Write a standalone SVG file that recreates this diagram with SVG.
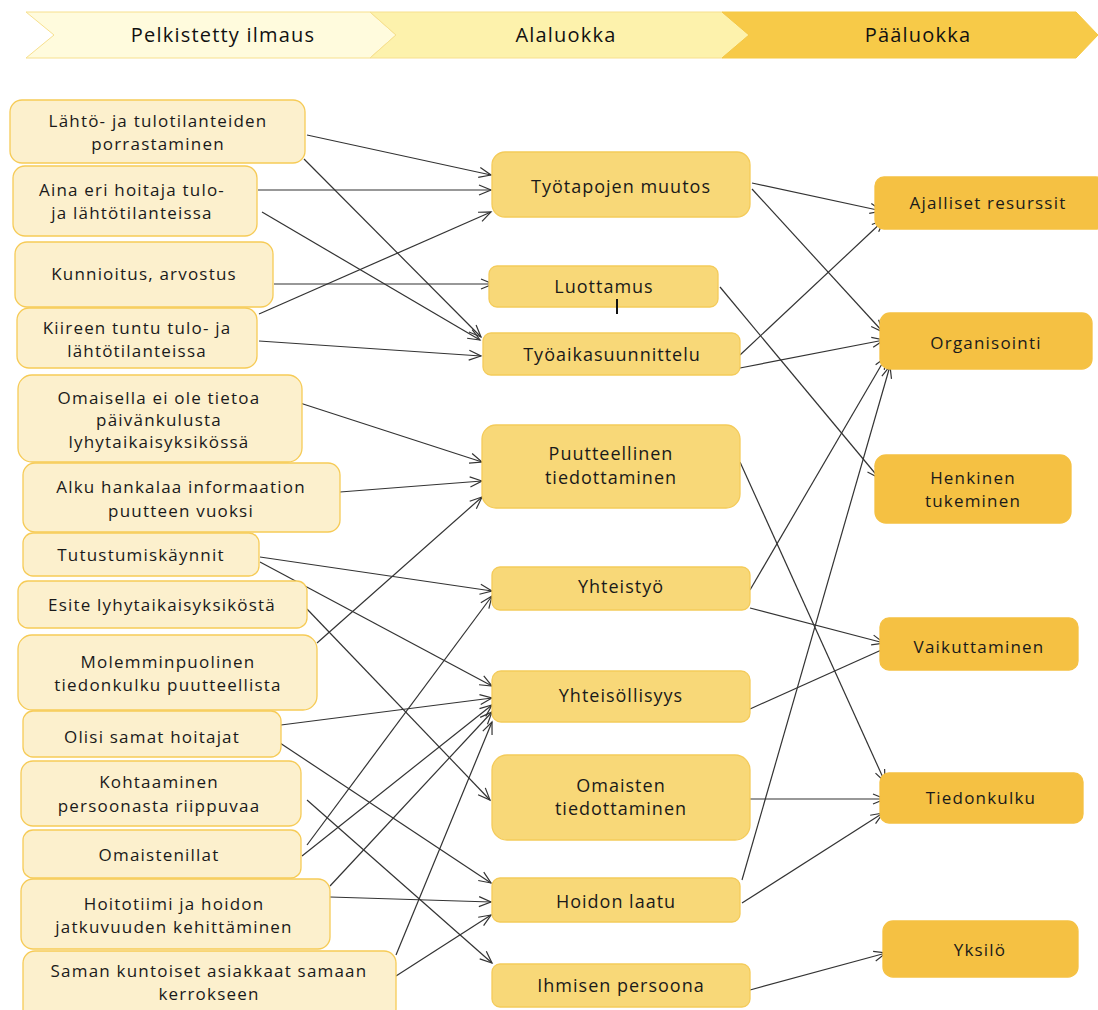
<svg xmlns="http://www.w3.org/2000/svg" width="1098" height="1010" viewBox="0 0 1098 1010">
<defs>
<marker id="arr" markerUnits="userSpaceOnUse" markerWidth="16" markerHeight="14" refX="13" refY="6" orient="auto">
<path d="M1,1 L13,6 L1,11" fill="none" stroke="#333" stroke-width="1.2"/>
</marker>
<style>
.hd{font-family:"Open Sans","Liberation Sans",sans-serif;font-size:20px;letter-spacing:1.2px;fill:#111;text-anchor:middle}
.l rect{fill:#FCF0CD;stroke:#F6CB57;stroke-width:1.3}
.m rect{fill:#F8D878;stroke:#F4CB5A;stroke-width:1.3}
.r rect{fill:#F5C143;stroke:#F5C143;stroke-width:1.3}
text.t{font-family:"Open Sans","Liberation Sans",sans-serif;font-size:17px;letter-spacing:1.2px;fill:#1a1a1a;text-anchor:middle}
.m text.t{font-size:18px;letter-spacing:1px}
.c line{stroke:#333;stroke-width:1.2;marker-end:url(#arr)}
</style>
</defs>
<rect width="1098" height="1010" fill="#fff"/>
<g id="header">
<polygon points="26,12 370,12 396,35 370,58 26,58 54,35" fill="#FFFBDD" stroke="#F7E08E" stroke-width="1"/>
<polygon points="370,12 722,12 749,35 722,58 370,58 396,35" fill="#FDF2AC" stroke="#F7E08E" stroke-width="1"/>
<polygon points="722,12 1076,12 1098,35 1076,58 722,58 749,35" fill="#F7CA48" stroke="#F5C843" stroke-width="1"/>
<text class="hd" x="223" y="42">Pelkistetty ilmaus</text>
<text class="hd" x="566" y="42">Alaluokka</text>
<text class="hd" x="918" y="42">Pääluokka</text>
</g>
<g id="connectors" class="c">
<line x1="307" y1="135" x2="491" y2="175"/>
<line x1="304" y1="159" x2="481" y2="337"/>
<line x1="258" y1="190" x2="491" y2="190"/>
<line x1="262" y1="212" x2="480" y2="340"/>
<line x1="274" y1="284" x2="493" y2="284"/>
<line x1="259" y1="314" x2="491" y2="212"/>
<line x1="259" y1="341" x2="481" y2="356"/>
<line x1="300" y1="403" x2="482" y2="462"/>
<line x1="340" y1="492" x2="482" y2="481"/>
<line x1="317" y1="643" x2="482" y2="497"/>
<line x1="260" y1="557" x2="492" y2="591"/>
<line x1="260" y1="562" x2="492" y2="686"/>
<line x1="307" y1="609" x2="490" y2="800"/>
<line x1="281" y1="725" x2="492" y2="698"/>
<line x1="277" y1="741" x2="491" y2="883"/>
<line x1="307" y1="800" x2="492" y2="963"/>
<line x1="307" y1="845" x2="492" y2="596"/>
<line x1="302" y1="856" x2="492" y2="705"/>
<line x1="330" y1="886" x2="492" y2="712"/>
<line x1="330" y1="897" x2="491" y2="902"/>
<line x1="396" y1="955" x2="492" y2="722"/>
<line x1="396" y1="976" x2="491" y2="915"/>
<line x1="752" y1="183" x2="882" y2="211"/>
<line x1="752" y1="189" x2="883" y2="332"/>
<line x1="720" y1="287" x2="879" y2="478"/>
<line x1="740" y1="355" x2="884" y2="220"/>
<line x1="740" y1="368" x2="884" y2="340"/>
<line x1="740" y1="462" x2="885" y2="782"/>
<line x1="750" y1="590" x2="886" y2="357"/>
<line x1="750" y1="608" x2="884" y2="643"/>
<line x1="750" y1="709" x2="897" y2="643"/>
<line x1="750" y1="799" x2="885" y2="799"/>
<line x1="742" y1="880" x2="890" y2="366"/>
<line x1="742" y1="903" x2="883" y2="813"/>
<line x1="750" y1="990" x2="886" y2="953"/>
</g>
<g id="l1" class="l"><rect x="10" y="100" width="295" height="63" rx="12"/><text class="t" x="158" y="127">Lähtö- ja tulotilanteiden</text><text class="t" x="158" y="150">porrastaminen</text></g>
<g id="l2" class="l"><rect x="13" y="166" width="244" height="70" rx="12"/><text class="t" x="132" y="196">Aina eri hoitaja tulo-</text><text class="t" x="132" y="219">ja lähtötilanteissa</text></g>
<g id="l3" class="l"><rect x="15" y="242" width="258" height="65" rx="12"/><text class="t" x="144" y="280">Kunnioitus, arvostus</text></g>
<g id="l4" class="l"><rect x="17" y="308" width="240" height="60" rx="12"/><text class="t" x="137" y="334">Kiireen tuntu tulo- ja</text><text class="t" x="137" y="357">lähtötilanteissa</text></g>
<g id="l5" class="l"><rect x="18" y="375" width="284" height="87" rx="14"/><text class="t" x="159" y="404">Omaisella ei ole tietoa</text><text class="t" x="159" y="426">päivänkulusta</text><text class="t" x="159" y="448">lyhytaikaisyksikössä</text></g>
<g id="l6" class="l"><rect x="23" y="463" width="317" height="69" rx="12"/><text class="t" x="181" y="493">Alku hankalaa informaation</text><text class="t" x="181" y="517">puutteen vuoksi</text></g>
<g id="l7" class="l"><rect x="23" y="533" width="236" height="43" rx="10"/><text class="t" x="141" y="561">Tutustumiskäynnit</text></g>
<g id="l8" class="l"><rect x="18" y="581" width="289" height="47" rx="10"/><text class="t" x="162" y="611">Esite lyhytaikaisyksiköstä</text></g>
<g id="l9" class="l"><rect x="18" y="635" width="299" height="75" rx="14"/><text class="t" x="168" y="668">Molemminpuolinen</text><text class="t" x="168" y="691">tiedonkulku puutteellista</text></g>
<g id="l10" class="l"><rect x="23" y="711" width="258" height="46" rx="10"/><text class="t" x="152" y="743">Olisi samat hoitajat</text></g>
<g id="l11" class="l"><rect x="21" y="761" width="280" height="65" rx="12"/><text class="t" x="159" y="788">Kohtaaminen</text><text class="t" x="159" y="812">persoonasta riippuvaa</text></g>
<g id="l12" class="l"><rect x="23" y="830" width="278" height="48" rx="10"/><text class="t" x="159" y="861">Omaistenillat</text></g>
<g id="l13" class="l"><rect x="21" y="879" width="309" height="70" rx="12"/><text class="t" x="174" y="910">Hoitotiimi ja hoidon</text><text class="t" x="174" y="933">jatkuvuuden kehittäminen</text></g>
<g id="l14" class="l"><rect x="23" y="951" width="373" height="70" rx="12"/><text class="t" x="209" y="977">Saman kuntoiset asiakkaat samaan</text><text class="t" x="209" y="1000">kerrokseen</text></g>
<g id="m1" class="m"><rect x="492" y="152" width="258" height="65" rx="13"/><text class="t" x="621" y="193">Työtapojen muutos</text></g>
<g id="m2" class="m"><rect x="489" y="266" width="229" height="41" rx="8"/><text class="t" x="604" y="293">Luottamus</text><line x1="617" y1="299" x2="617" y2="314" stroke="#111" stroke-width="2"/></g>
<g id="m3" class="m"><rect x="483" y="333" width="257" height="42" rx="8"/><text class="t" x="612" y="361">Työaikasuunnittelu</text></g>
<g id="m4" class="m"><rect x="482" y="425" width="258" height="83" rx="14"/><text class="t" x="611" y="460">Puutteellinen</text><text class="t" x="611" y="484">tiedottaminen</text></g>
<g id="m5" class="m"><rect x="492" y="567" width="258" height="43" rx="8"/><text class="t" x="621" y="593">Yhteistyö</text></g>
<g id="m6" class="m"><rect x="492" y="671" width="258" height="51" rx="9"/><text class="t" x="621" y="702">Yhteisöllisyys</text></g>
<g id="m7" class="m"><rect x="492" y="755" width="258" height="85" rx="15"/><text class="t" x="621" y="792">Omaisten</text><text class="t" x="621" y="815">tiedottaminen</text></g>
<g id="m8" class="m"><rect x="492" y="878" width="248" height="44" rx="8"/><text class="t" x="616" y="908">Hoidon laatu</text></g>
<g id="m9" class="m"><rect x="492" y="964" width="258" height="43" rx="8"/><text class="t" x="621" y="992">Ihmisen persoona</text></g>
<g id="r1" class="r"><rect x="875" y="177" width="230" height="52" rx="9"/><text class="t" x="988" y="209">Ajalliset resurssit</text></g>
<g id="r2" class="r"><rect x="880" y="313" width="212" height="56" rx="10"/><text class="t" x="986" y="349">Organisointi</text></g>
<g id="r3" class="r"><rect x="875" y="455" width="196" height="68" rx="11"/><text class="t" x="973" y="484">Henkinen</text><text class="t" x="973" y="507">tukeminen</text></g>
<g id="r4" class="r"><rect x="880" y="618" width="198" height="52" rx="9"/><text class="t" x="979" y="653">Vaikuttaminen</text></g>
<g id="r5" class="r"><rect x="880" y="773" width="203" height="50" rx="9"/><text class="t" x="981" y="804">Tiedonkulku</text></g>
<g id="r6" class="r"><rect x="883" y="921" width="195" height="56" rx="10"/><text class="t" x="980" y="956">Yksilö</text></g>
</svg>
